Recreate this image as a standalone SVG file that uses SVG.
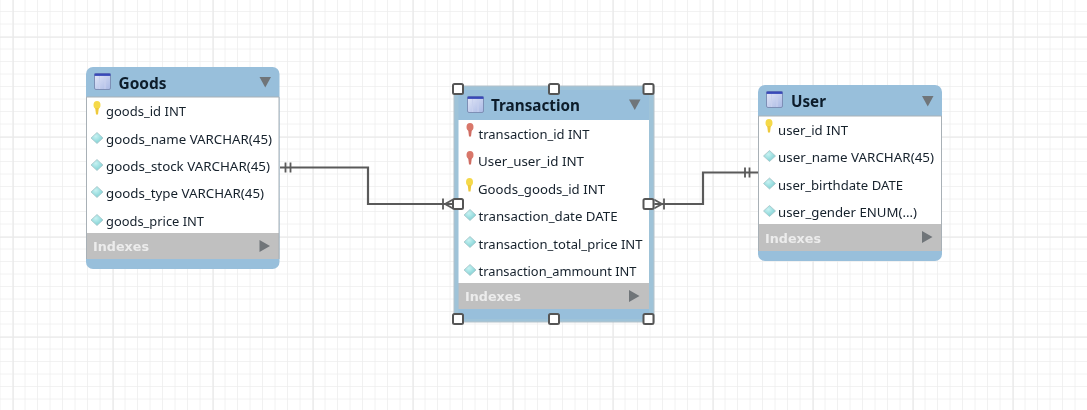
<svg xmlns="http://www.w3.org/2000/svg" width="1087" height="410" viewBox="0 0 1087 410">
<style>
.row{font-family:"Noto Sans","DejaVu Sans",sans-serif;font-size:13px;fill:#15202c}
.title{font-family:"Noto Sans","DejaVu Sans",sans-serif;font-size:15.500px;font-weight:bold;fill:#0c1c2a}
.idx{font-family:"DejaVu Sans","Liberation Sans",sans-serif;font-size:12.500px;font-weight:bold;fill:#ececec}
.head{fill:#98bfdb}
.body{fill:#fff}
.gray{fill:#c0c0c0}
.edge{fill:none;stroke:#5a5a5a;stroke-width:2.200}
.tick{fill:none;stroke:#5a5a5a;stroke-width:1.800}
.handle{fill:#fff;stroke:#555;stroke-width:2}
.tri{fill:#6f7479}
</style>
<defs>
<filter id="soft" filterUnits="userSpaceOnUse" x="0" y="0" width="1087" height="410"><feGaussianBlur stdDeviation="0.350"/></filter>
<pattern id="minor" x="0.500" y="-0.500" width="12.500" height="12.500" patternUnits="userSpaceOnUse">
<path d="M12.500 0V12.500M0 12.500H12.500" fill="none" stroke="#eeeeee" stroke-width="1.500"/>
</pattern>
<pattern id="major" x="13" y="37" width="100" height="100" patternUnits="userSpaceOnUse">
<path d="M0 0V100M0 0H100" fill="none" stroke="#e9e9e9" stroke-width="1.600"/>
</pattern>
<linearGradient id="tbl" x1="0" y1="0" x2="1" y2="1"><stop offset="0" stop-color="#e4e8f8"/><stop offset="1" stop-color="#a9b8e4"/></linearGradient>
<radialGradient id="diaG" cx="0.400" cy="0.350" r="0.700"><stop offset="0" stop-color="#c8f2f2"/><stop offset="1" stop-color="#79cfd2"/></radialGradient>
<g id="tableIcon">
<rect x="0.500" y="0.500" width="16" height="16" rx="1.500" fill="url(#tbl)" stroke="#7d8fb5"/>
<rect x="0.500" y="0.500" width="16" height="2.400" fill="#3748b8"/>
<path d="M5.500 3V16M11 3V16" stroke="#c9d1ee" stroke-width="1"/>
</g>
<g id="keyY"><ellipse cx="0" cy="-3" rx="3.500" ry="4" fill="#f5d94a"/><path d="M-1.800 0H1.800L1 6.500H-1Z" fill="#eec93a"/></g>
<g id="keyR"><ellipse cx="0" cy="-3" rx="3.500" ry="4" fill="#d9776b"/><path d="M-1.800 0H1.800L1 6.500H-1Z" fill="#cf6d63"/></g>
<g id="dia"><path d="M0 -5.500L6 0L0 5.500L-6 0Z" fill="url(#diaG)" stroke="#a8c4c8" stroke-width="0.800"/></g>
</defs>
<rect width="1087" height="410" fill="#fff"/>
<rect width="1087" height="410" fill="url(#minor)"/>
<rect width="1087" height="410" fill="url(#major)"/>
<g filter="url(#soft)">
<g id="connectors">
<path class="edge" d="M280 167.500H368V204H452"/>
<path class="tick" d="M285.500 162.500V172.500M290.500 162.500V172.500"/>
<path class="tick" d="M443 198.500V209.500M445 204L453 199.500M445 204L453 208.500"/>
<path class="edge" d="M654 204H703V172.500H758"/>
<path class="tick" d="M745 167.500V177.500M749.500 167.500V177.500"/>
<path class="tick" d="M664 198.500V209.500M662 204L654 199.500M662 204L654 208.500"/>
</g>

<g id="node-goods">
<rect class="head" x="86" y="67" width="193.500" height="202" rx="7"/>
<rect class="body" x="86.500" y="97" width="192.500" height="136"/>
<rect class="gray" x="86.500" y="233" width="192.500" height="26"/>
<path d="M86.500 97V259M279 97V259M86.500 97H279" fill="none" stroke="#a8b0b6" stroke-width="1"/>
<use href="#tableIcon" x="94" y="73"/>
<text class="title" x="118.500" y="88.500" textLength="48" lengthAdjust="spacingAndGlyphs">Goods</text>
<path class="tri" d="M259.500 77H271L265.250 87.500Z"/>
<use href="#keyY" x="97" y="108"/>
<text class="row" x="106" y="116" textLength="80" lengthAdjust="spacingAndGlyphs">goods_id INT</text>
<use href="#dia" x="97" y="138"/>
<text class="row" x="106" y="143.500" textLength="166" lengthAdjust="spacingAndGlyphs">goods_name VARCHAR(45)</text>
<use href="#dia" x="97" y="165"/>
<text class="row" x="106" y="171" textLength="164" lengthAdjust="spacingAndGlyphs">goods_stock VARCHAR(45)</text>
<use href="#dia" x="97" y="192"/>
<text class="row" x="106" y="198" textLength="158" lengthAdjust="spacingAndGlyphs">goods_type VARCHAR(45)</text>
<use href="#dia" x="97" y="220"/>
<text class="row" x="106" y="226" textLength="98" lengthAdjust="spacingAndGlyphs">goods_price INT</text>
<text class="idx" x="93" y="251" textLength="56" lengthAdjust="spacingAndGlyphs">Indexes</text>
<path class="tri" d="M259.500 240L270 246L259.500 252Z"/>
</g>

<g id="node-transaction">
<rect x="454" y="86" width="200" height="236" fill="#9fc3d8" stroke="#b4c2ca" stroke-width="1"/>
<rect class="head" x="458.500" y="90" width="190.500" height="229"/>
<rect class="body" x="458.500" y="120" width="190.500" height="163"/>
<rect class="gray" x="458.500" y="283" width="190.500" height="26"/>
<use href="#tableIcon" x="467" y="96"/>
<text class="title" x="491" y="111" textLength="89" lengthAdjust="spacingAndGlyphs">Transaction</text>
<path class="tri" d="M629 99.500H640.500L634.750 110Z"/>
<use href="#keyR" x="470" y="130"/>
<text class="row" x="478.500" y="138.500" textLength="111" lengthAdjust="spacingAndGlyphs">transaction_id INT</text>
<use href="#keyR" x="470" y="158"/>
<text class="row" x="478" y="166" textLength="106" lengthAdjust="spacingAndGlyphs">User_user_id INT</text>
<use href="#keyY" x="469.500" y="185"/>
<text class="row" x="478" y="193.500" textLength="127" lengthAdjust="spacingAndGlyphs">Goods_goods_id INT</text>
<use href="#dia" x="470" y="215"/>
<text class="row" x="478.500" y="221" textLength="139" lengthAdjust="spacingAndGlyphs">transaction_date DATE</text>
<use href="#dia" x="470" y="242"/>
<text class="row" x="478.500" y="248.500" textLength="164" lengthAdjust="spacingAndGlyphs">transaction_total_price INT</text>
<use href="#dia" x="470" y="270"/>
<text class="row" x="478.500" y="276" textLength="158" lengthAdjust="spacingAndGlyphs">transaction_ammount INT</text>
<text class="idx" x="465" y="301" textLength="56" lengthAdjust="spacingAndGlyphs">Indexes</text>
<path class="tri" d="M629 290L639.500 296L629 302Z"/>
<rect class="handle" x="453" y="84" width="10" height="10" rx="1.500"/>
<rect class="handle" x="549" y="84" width="10" height="10" rx="1.500"/>
<rect class="handle" x="643.500" y="84" width="10" height="10" rx="1.500"/>
<rect class="handle" x="453" y="199" width="10" height="10" rx="1.500"/>
<rect class="handle" x="643.500" y="199" width="10" height="10" rx="1.500"/>
<rect class="handle" x="453" y="314" width="10" height="10" rx="1.500"/>
<rect class="handle" x="549" y="314" width="10" height="10" rx="1.500"/>
<rect class="handle" x="643.500" y="314" width="10" height="10" rx="1.500"/>
</g>

<g id="node-user">
<rect class="head" x="758" y="85" width="184" height="176" rx="7"/>
<rect class="body" x="758.500" y="116" width="183" height="108"/>
<rect class="gray" x="758.500" y="224" width="183" height="27"/>
<path d="M758.500 116V251M941.500 116V251M758.500 116H941.500" fill="none" stroke="#a8b0b6" stroke-width="1"/>
<use href="#tableIcon" x="766" y="91"/>
<text class="title" x="791" y="106.500" textLength="35" lengthAdjust="spacingAndGlyphs">User</text>
<path class="tri" d="M922 96H933.500L927.750 106.500Z"/>
<use href="#keyY" x="769" y="126"/>
<text class="row" x="778" y="134.500" textLength="70" lengthAdjust="spacingAndGlyphs">user_id INT</text>
<use href="#dia" x="769.500" y="156"/>
<text class="row" x="778" y="162" textLength="156" lengthAdjust="spacingAndGlyphs">user_name VARCHAR(45)</text>
<use href="#dia" x="769.500" y="183.500"/>
<text class="row" x="778" y="189.500" textLength="125" lengthAdjust="spacingAndGlyphs">user_birthdate DATE</text>
<use href="#dia" x="769.500" y="211"/>
<text class="row" x="778" y="217" textLength="139" lengthAdjust="spacingAndGlyphs">user_gender ENUM(...)</text>
<text class="idx" x="765" y="242.500" textLength="56" lengthAdjust="spacingAndGlyphs">Indexes</text>
<path class="tri" d="M922 231L932.500 237L922 243Z"/>
</g>
</g>
</svg>
